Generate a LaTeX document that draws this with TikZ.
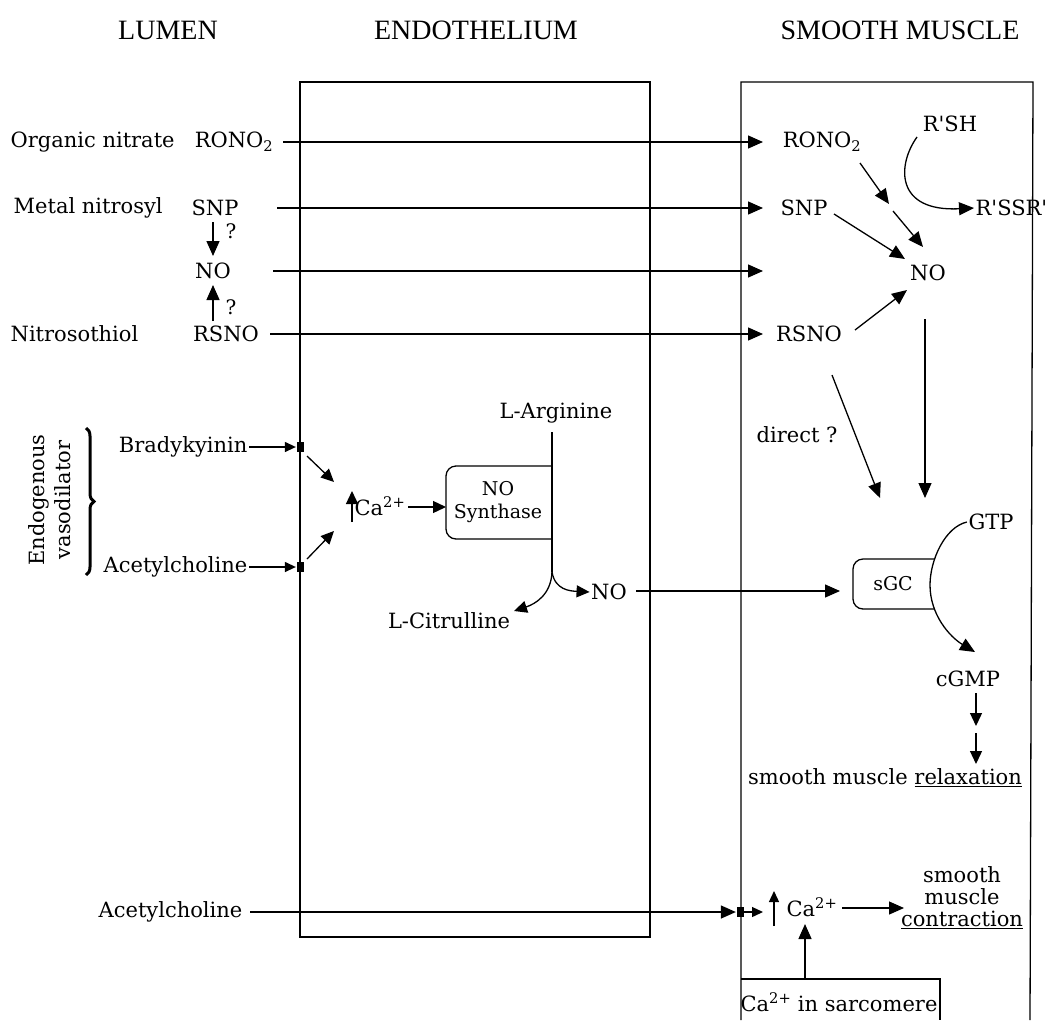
\documentclass[tikz,border=0pt]{standalone}
\usepackage{fontspec}
\setmainfont{DejaVu Serif}
\newfontfamily\hdfont{Liberation Serif}
\usetikzlibrary{arrows.meta,decorations.pathreplacing}
\begin{document}
\begin{tikzpicture}[x=1pt,y=-1pt, line width=1.3pt,
 txt/.style={font=\fontsize{21}{25}\selectfont, inner sep=1pt},
 btxt/.style={font=\fontsize{19}{22}\selectfont, inner sep=1pt},
 hdr/.style={font=\hdfont\fontsize{28}{32}\selectfont, inner sep=0pt},
 qm/.style={font=\fontsize{20}{22}\selectfont, inner sep=0pt},
 arr/.style={-{Triangle[length=15pt,width=13pt]}},
 marr/.style={-{Triangle[length=13pt,width=12pt]}},
 sarr/.style={-{Triangle[length=11pt,width=10pt]}},
 recep/.style={fill=black, draw=none, minimum width=7pt, minimum height=10pt, inner sep=0pt}
]
\fill[white] (0,0) rectangle (1046,1020);
\useasboundingbox (0,0) rectangle (1046,1020);

% headers
\node[hdr] (hLumen) at (168,30) {LUMEN};
\node[hdr] (hEndo) at (476,30) {ENDOTHELIUM};
\node[hdr] (hSM) at (900,30) {SMOOTH MUSCLE};

% compartments
\draw (300,82) rectangle (650,937);
\draw (741,1020) -- (741,82) -- (1033,82) -- (1030,1020);
\draw (741,979) -- (940,979) -- (940,1020);

% lumen labels
\node[txt, anchor=west] (lOrg) at (9,142) {Organic nitrate};
\node[txt] (rono2L) at (234,142) {RONO\textsubscript{2}};
\node[txt, anchor=west] (lMet) at (12,208) {Metal nitrosyl};
\node[txt] (snpL) at (215,208) {SNP};
\node[txt] (noL) at (213,271) {NO};
\node[txt, anchor=west] (lNit) at (9,334) {Nitrosothiol};
\node[txt] (rsnoL) at (226,334) {RSNO};
\node[qm] (q1) at (231,231) {?};
\node[qm] (q2) at (231,307) {?};

\coordinate (s1) at (283,142);
\coordinate (s2) at (277,208);
\coordinate (s3) at (273,271);
\coordinate (s4) at (270,334);
\coordinate (e1) at (763,142);
\coordinate (e2) at (763,208);
\coordinate (e3) at (763,271);
\coordinate (e4) at (763,334);
\draw[arr] (s1) -- (e1);
\draw[arr] (s2) -- (e2);
\draw[arr] (s3) -- (e3);
\draw[arr] (s4) -- (e4);
\coordinate (a1) at (213,222);
\coordinate (b1) at (213,256);
\coordinate (a2) at (213,321);
\coordinate (b2) at (213,285);
\draw[arr] (a1) -- (b1);
\draw[arr] (a2) -- (b2);

% smooth muscle top
\node[txt] (rono2R) at (822,142) {RONO\textsubscript{2}};
\node[txt] (snpR) at (804,208) {SNP};
\node[txt] (rsnoR) at (809,334) {RSNO};
\node[txt] (noR) at (928,273) {NO};
\node[txt] (rsh) at (950,124) {R\textquotesingle SH};
\node[txt, anchor=west] (rssr) at (974,208) {R\textquotesingle SSR\textquotesingle};
\draw[arr] (917,137) .. controls (897,165) and (895,212) .. (rssr.west);
\coordinate (m1) at (889,204);
\draw[arr] (860,163) -- (m1);
\draw[arr] (893,211) -- (923,247);
\draw[arr] (834,214) -- (905,259);
\draw[arr] (855,330) -- (907,290);
\coordinate (sg1) at (925,498);
\draw[arr] (925,319) -- (sg1);
\coordinate (sg2) at (880,498);
\draw[arr] (832,375) -- (sg2);
\node[txt] (direct) at (797,435) {direct ?};

% sGC
\draw[rounded corners=10pt] (934,559) -- (853,559) -- (853,609) -- (934,609);
\node[btxt] (sgc) at (893,584) {sGC};
\node[txt] (gtp) at (991,522) {GTP};
\node[txt] (cgmp) at (968,679) {cGMP};
\draw[arr] (gtp.west) .. controls (945,527) and (930,560) .. (930,585) .. controls (930,615) and (950,637) .. (975,652);
\draw[marr] (976,693) -- (976,726);
\draw[marr] (976,733) -- (976,764);
\node[txt] (relax) at (885,778) {smooth muscle \underline{relaxation}};

% endothelium
\node[txt, anchor=east] (brady) at (249,447) {Bradykyinin};
\node[txt, anchor=east] (ach1) at (249,567) {Acetylcholine};
\node[recep] (r1) at (300,447) {};
\node[recep] (r2) at (300,567) {};
\draw[sarr] (brady.east) -- (r1.west);
\draw[sarr] (ach1.east) -- (r2.west);
\draw[marr] (307,456) -- (334,482);
\draw[marr] (307,559) -- (334,531);
\draw[decorate, decoration={brace, amplitude=8pt}, line width=3pt] (86,428) -- (86,575);
\node[txt, rotate=90, align=center, font=\fontsize{21}{26}\selectfont] (endo) at (50,500) {Endogenous\\vasodilator};

\node[txt] (ca1) at (380,506) {Ca\textsuperscript{2+}};
\draw[marr] (352,522) -- (352,491);
\draw[rounded corners=10pt] (552,466) -- (446,466) -- (446,539) -- (552,539);
\node[btxt, align=center, font=\fontsize{19}{23}\selectfont] (nos) at (498,502) {NO\\Synthase};
\coordinate (nosW) at (446,507);
\draw[marr] (408,507) -- (nosW);
\node[txt] (larg) at (556,413) {L-Arginine};
\node[txt] (lcit) at (449,621) {L-Citrulline};
\coordinate (split) at (552,572);
\draw (552,432) -- (split);
\draw[marr] (split) .. controls (551,595) and (535,604) .. (514,611);
\node[txt] (noE) at (609,592) {NO};
\draw[marr] (split) .. controls (555,590) and (570,591) .. (noE.west);
\coordinate (sgcW) at (840,591);
\draw[arr] (636,591) -- (sgcW);

% bottom
\node[txt, anchor=east] (ach2) at (244,912) {Acetylcholine};
\node[recep] (r3) at (740,912) {};
\draw[arr] (ach2.east) ++(6,0) -- (r3.west);
\coordinate (cu) at (763,912);
\draw[sarr] (r3.east) -- (cu);
\draw[sarr] (774,926) -- (774,891);
\node[txt] (ca2) at (812,907) {Ca\textsuperscript{2+}};
\node[txt, align=center, font=\fontsize{21}{22}\selectfont] (contr) at (962,898) {smooth\\muscle\\\underline{contraction}};
\draw[arr] (842,908) -- (904,908);
\node[txt] (sarc) at (839,1002) {Ca\textsuperscript{2+} in sarcomere};
\draw[arr] (805,979) -- (805,924);
\end{tikzpicture}
\end{document}
